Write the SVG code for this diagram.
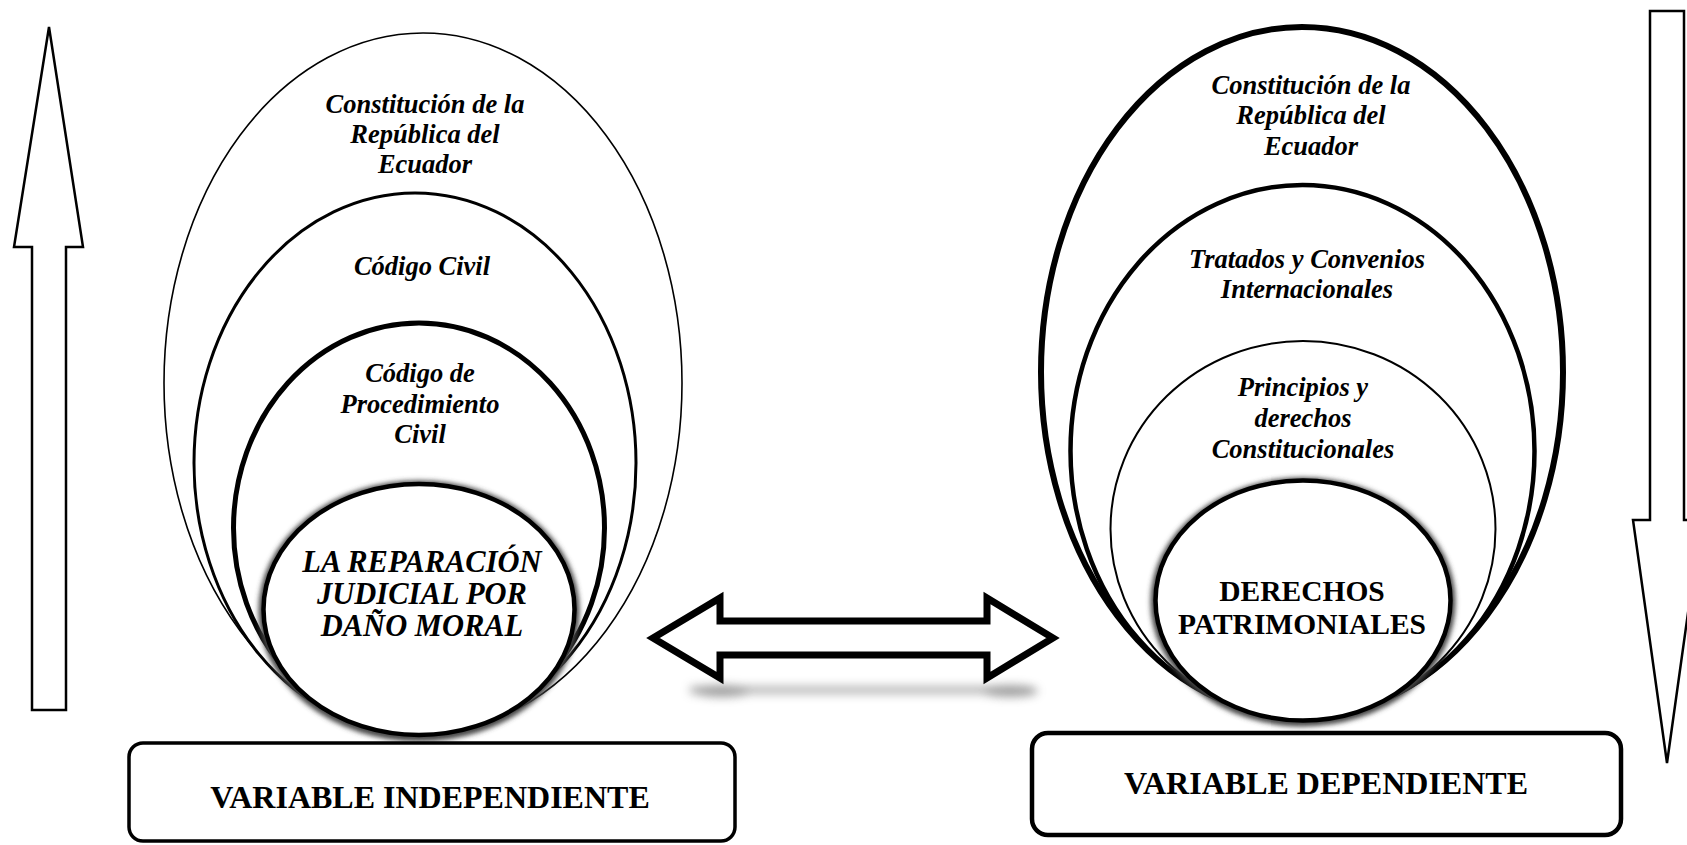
<svg xmlns="http://www.w3.org/2000/svg" width="1687" height="845" viewBox="0 0 1687 845">
  <defs>
    <filter id="soft" x="-20%" y="-20%" width="140%" height="140%">
      <feGaussianBlur stdDeviation="2.5"/>
    </filter>
    <filter id="shadowBlur" x="-20%" y="-200%" width="140%" height="500%">
      <feGaussianBlur stdDeviation="5"/>
    </filter>
  </defs>
  <style>
    .ell { fill: #ffffff; stroke: #000000; }
    .it { font-family: "Liberation Serif", "Times New Roman", serif; font-style: italic; font-weight: bold; font-size: 26.5px; fill: #000000; text-anchor: middle; }
    .core { font-family: "Liberation Serif", "Times New Roman", serif; font-weight: bold; font-size: 29.5px; fill: #000000; text-anchor: middle; }
    .core-it { font-style: italic; font-size: 30.5px; }
    .var { font-family: "Liberation Serif", "Times New Roman", serif; font-weight: bold; font-size: 32px; fill: #000000; text-anchor: middle; }
    .box { fill: #ffffff; stroke: #000000; }
    .arrow { fill: #ffffff; stroke: #000000; stroke-linejoin: miter; }
  </style>

  <rect x="0" y="0" width="1687" height="845" fill="#ffffff"/>

  <!-- Left side arrow (up) -->
  <g id="arrow-up">
    <polygon class="arrow" stroke-width="2.5" points="49,27 83,247 66,247 66,710 32,710 32,247 14,247"/>
  </g>

  <!-- Right side arrow (down) -->
  <g id="arrow-down">
    <polygon class="arrow" stroke-width="2.5" points="1650,11 1684,11 1684,520 1701,520 1667,763 1633,520 1650,520"/>
  </g>

  <!-- Left nested ellipses -->
  <g id="left-constitucion">
    <ellipse class="ell" cx="423" cy="383" rx="259" ry="350" stroke-width="1.6"/>
    <text class="it" x="425" y="113">Constitución de la</text>
    <text class="it" x="425" y="143">República del</text>
    <text class="it" x="425" y="173">Ecuador</text>
  </g>
  <g id="left-codigo-civil">
    <ellipse class="ell" cx="415" cy="463" rx="221" ry="270" stroke-width="3"/>
    <text class="it" x="422" y="275">Código Civil</text>
  </g>
  <g id="left-codigo-procedimiento">
    <ellipse class="ell" cx="419" cy="528" rx="185.5" ry="205" stroke-width="5"/>
    <text class="it" x="420" y="382">Código de</text>
    <text class="it" x="420" y="413">Procedimiento</text>
    <text class="it" x="420" y="443">Civil</text>
  </g>
  <g id="left-core">
    <ellipse cx="419" cy="611" rx="156" ry="126" fill="none" stroke="#444444" stroke-width="9" filter="url(#soft)"/>
    <ellipse class="ell" cx="419" cy="609.5" rx="155.5" ry="125.5" stroke-width="4.5"/>
    <text class="core core-it" x="422" y="572">LA REPARACIÓN</text>
    <text class="core core-it" x="422" y="604">JUDICIAL POR</text>
    <text class="core core-it" x="422" y="636">DAÑO MORAL</text>
  </g>

  <!-- Right nested ellipses -->
  <g id="right-constitucion">
    <ellipse class="ell" cx="1302" cy="372" rx="261" ry="345" stroke-width="6"/>
    <text class="it" x="1311" y="94">Constitución de la</text>
    <text class="it" x="1311" y="124">República del</text>
    <text class="it" x="1311" y="155">Ecuador</text>
  </g>
  <g id="right-tratados">
    <ellipse class="ell" cx="1302.5" cy="451" rx="232" ry="266" stroke-width="4.5"/>
    <text class="it" x="1307" y="268">Tratados y Convenios</text>
    <text class="it" x="1307" y="298">Internacionales</text>
  </g>
  <g id="right-principios">
    <ellipse class="ell" cx="1303" cy="529" rx="192.5" ry="188" stroke-width="2"/>
    <text class="it" x="1303" y="396">Principios y</text>
    <text class="it" x="1303" y="427">derechos</text>
    <text class="it" x="1303" y="458">Constitucionales</text>
  </g>
  <g id="right-core">
    <ellipse cx="1303" cy="602" rx="148" ry="120" fill="none" stroke="#444444" stroke-width="9" filter="url(#soft)"/>
    <ellipse class="ell" cx="1303" cy="600.5" rx="147.5" ry="120" stroke-width="4.5"/>
    <text class="core" x="1302" y="601">DERECHOS</text>
    <text class="core" x="1302" y="634">PATRIMONIALES</text>
  </g>

  <!-- Variable boxes -->
  <g id="box-independiente">
    <rect class="box" x="129" y="743" width="606" height="98" rx="14" ry="14" stroke-width="3.5"/>
    <text class="var" x="430" y="808">VARIABLE INDEPENDIENTE</text>
  </g>
  <g id="box-dependiente">
    <rect class="box" x="1032" y="733" width="589" height="102" rx="16" ry="16" stroke-width="4.5"/>
    <text class="var" x="1326" y="794">VARIABLE DEPENDIENTE</text>
  </g>

  <!-- Connector: double arrow -->
  <g id="connectors">
    <g filter="url(#shadowBlur)" opacity="0.7">
      <rect x="690" y="686" width="340" height="8" fill="#9a9a9a"/>
      <ellipse cx="722" cy="691" rx="28" ry="6" fill="#777777"/>
      <ellipse cx="1010" cy="691" rx="28" ry="6" fill="#777777"/>
    </g>
    <polygon class="arrow" stroke-width="7" points="653,638 720,598 720,621 987,621 987,598 1053,638 987,678 987,655 720,655 720,678"/>
  </g>
</svg>
